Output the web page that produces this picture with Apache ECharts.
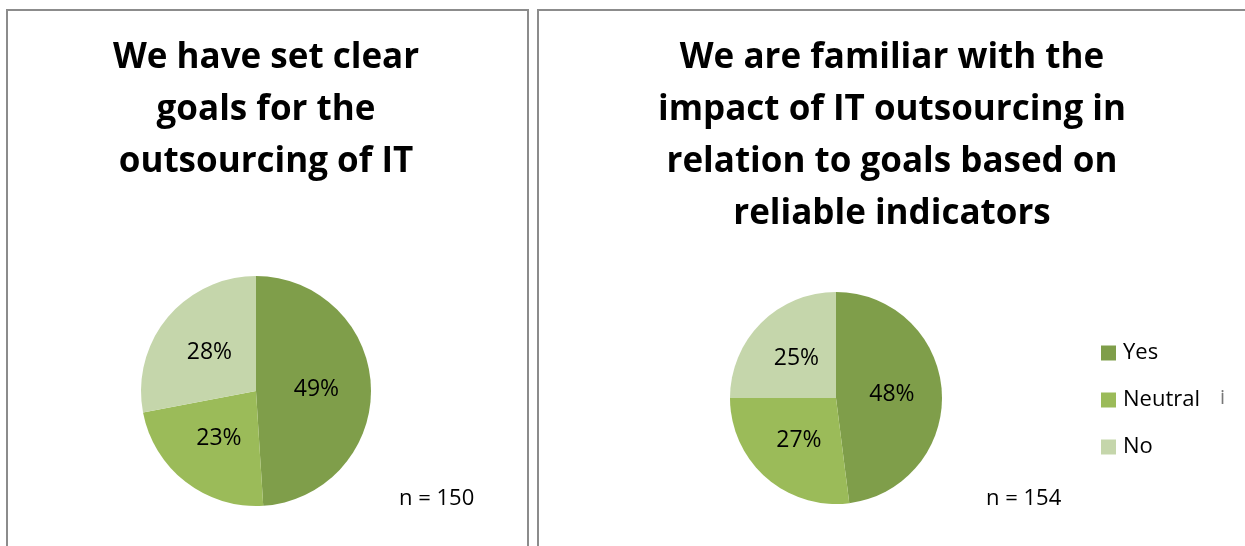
<!DOCTYPE html>
<html>
<head>
    <meta charset="utf-8">
    <title>IT outsourcing goals</title>
    <script src="https://cdn.jsdelivr.net/npm/echarts@6/dist/echarts.min.js"></script>
    <style type="text/css">
    html, body {margin:0;padding:0;background:#fff;}
    #main {width:1245px;height:546px;}
    </style>
</head>
<body>
    <div id="main"></div>
    <script>
    // answers, shared by both pies
    var categories = ['Yes', 'Neutral', 'No'];
    var colors = ['#7f9e4a', '#9bbb59', '#c5d6ab'];

    // left chart
    var titleLeft = 'We have set clear\ngoals for the\noutsourcing of IT';
    var valuesLeft = [49, 23, 28];
    var nLeft = 'n = 150';

    // right chart
    var titleRight = 'We are familiar with the\nimpact of IT outsourcing in\nrelation to goals based on\nreliable indicators';
    var valuesRight = [48, 27, 25];
    var nRight = 'n = 154';

    var font = '"Open Sans", "Liberation Sans", sans-serif';

    function pieData(vals) {
        return vals.map(function (v, i) {
            return {name: categories[i], value: v, itemStyle: {color: colors[i]}};
        });
    }

    function pieSeries(vals, cx, cy, r) {
        return {
            type: 'pie',
            center: [cx, cy],
            radius: [0, r],
            startAngle: 90,
            clockwise: true,
            silent: true,
            animation: false,
            data: pieData(vals),
            itemStyle: {borderWidth: 0},
            label: {
                show: true,
                position: 'inside',
                formatter: '{c}%',
                color: '#000',
                fontFamily: font,
                fontSize: 23,
                textBorderWidth: 0
            },
            labelLine: {show: false},
            emphasis: {disabled: true}
        };
    }

    var chart = echarts.init(document.getElementById('main'));

    var titleStyle = {
        fontFamily: font,
        fontWeight: 'bold',
        fontSize: 35,
        lineHeight: 52,
        color: '#000'
    };

    chart.setOption({
        backgroundColor: '#fff',
        animation: false,
        title: [
            {text: titleLeft, left: 266, top: 32, padding: 0, textAlign: 'center', textStyle: titleStyle},
            {text: titleRight, left: 892, top: 32, padding: 0, textAlign: 'center', textStyle: titleStyle}
        ],
        legend: {
            orient: 'vertical',
            left: 1101,
            top: 342,
            padding: 0,
            itemWidth: 15,
            itemHeight: 15,
            itemGap: 25,
            icon: 'rect',
            selectedMode: false,
            data: categories,
            textStyle: {fontFamily: font, fontSize: 22, lineHeight: 20, color: '#000', padding: [0, 0, 0, 2]}
        },
        graphic: [
            {type: 'rect', shape: {x: 7, y: 10, width: 521, height: 560},
             style: {fill: 'none', stroke: '#8c8c8c', lineWidth: 2}},
            {type: 'rect', shape: {x: 538, y: 10, width: 720, height: 560},
             style: {fill: 'none', stroke: '#8c8c8c', lineWidth: 2}},
            {type: 'text', x: 399, y: 499,
             style: {text: nLeft, font: '22px ' + font, fill: '#000', textVerticalAlign: 'middle'}},
            {type: 'text', x: 986, y: 499,
             style: {text: nRight, font: '22px ' + font, fill: '#000', textVerticalAlign: 'middle'}},
            {type: 'text', x: 1220, y: 398,
             style: {text: 'i', font: '20px ' + font, fill: '#777', textVerticalAlign: 'middle'}}
        ],
        series: [
            pieSeries(valuesLeft, 256, 391, 115),
            pieSeries(valuesRight, 836, 398, 106)
        ]
    });
    </script>
</body>
</html>
